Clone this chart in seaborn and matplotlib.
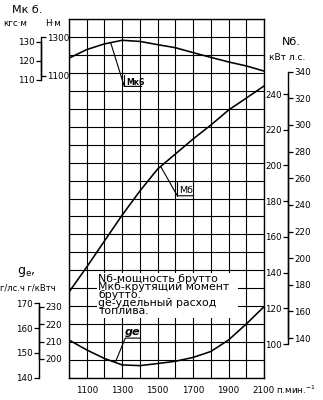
import numpy as np
import matplotlib
matplotlib.use('Agg')
import matplotlib.pyplot as plt
import seaborn as sns
from matplotlib.transforms import Affine2D, ScaledTranslation
from matplotlib.lines import Line2D
from matplotlib.patches import Rectangle

# ---------------- data ----------------
rpm = [1000, 1100, 1200, 1300, 1400, 1500, 1600, 1700, 1800, 1900, 2000, 2100]
torque_kgfm = [121.5, 126.0, 129.0, 130.9, 130.3, 128.6, 127.0, 124.4, 121.9, 119.5, 117.4, 114.7]
power_kw = [129.1, 143.1, 157.7, 172.2, 185.7, 198.0, 206.4, 214.8, 222.6, 231.0, 237.7, 244.5]
ge_gkwh = [210.9, 205.2, 200.3, 196.6, 196.2, 197.4, 198.7, 200.9, 204.3, 210.9, 220.1, 230.0]

x_ticklabels = ['', '1100', '', '1300', '', '1500', '', '1700', '', '1900', '', '2100']
torque_kgf_ticks = [110, 120, 130]
torque_nm_ticks = [1100, 1300]
power_kw_ticks = [100, 120, 140, 160, 180, 200, 220, 240]
power_hp_ticks = [140, 160, 180, 200, 220, 240, 260, 280, 300, 320, 340]
ge_hph_ticks = [140, 150, 160, 170]
ge_kwh_ticks = [200, 210, 220, 230]

legend_lines = ['Nб-мощность брутто', 'Мкб-крутящий момент', 'брутто.',
                'ge-удельный расход', 'топлива.']

# ---------------- style ----------------
sns.set_theme(style='white')
plt.rcParams['font.family'] = ['DejaVu Sans']
plt.rcParams['text.color'] = 'black'

W, H = 323, 400
fig = plt.figure(figsize=(W / 100, H / 100), dpi=100)
L, R, T, B = 69, 264, 19, 378
ax = fig.add_axes([L / W, 1 - B / H, (R - L) / W, (B - T) / H])
ax.set_xlim(1000, 2100)
ax.set_ylim(0, 20)
ax.set_xticks(rpm)
ax.set_xticklabels(x_ticklabels, fontsize=6.3)
ax.set_yticks(range(21))
ax.set_yticklabels([])
ax.grid(True, color='black', lw=0.8)
ax.tick_params(length=0, pad=6, colors='black')
for s in ax.spines.values():
    s.set_color('black')
    s.set_linewidth(1.0)


def scale_axis(ylim, side, pos, bounds, ticks):
    tw = ax.twinx()
    for s in tw.spines.values():
        s.set_visible(False)
    sp = tw.spines[side]
    sp.set_visible(True)
    sp.set_position(('axes', pos))
    sp.set_bounds(*bounds)
    sp.set_linewidth(1.0)
    sp.set_color('black')
    tw.yaxis.set_ticks_position(side)
    tw.yaxis.set_label_position(side)
    tw.set_yticks(ticks)
    tw.tick_params(axis='y', direction='out', length=3.5, width=0.9, pad=1,
                   labelsize=6.3, colors='black')
    tw.grid(False)
    tw.set_ylim(*ylim)
    return tw


# torque scales (left, top)
tw_t = scale_axis((-46.84, 142.1), 'left', -0.1436, (110, 130), torque_kgf_ticks)
tw_nm = scale_axis((-459.3, 1393.6), 'right', -0.1436, (1100, 1300), torque_nm_ticks)
# power scales (right)
tw_p = scale_axis((80.96, 282.0), 'left', 1.1231, (100, 240), power_kw_ticks)
tw_hp = scale_axis((110.0, 379.6), 'right', 1.1231, (140, 340), power_hp_ticks)
# specific consumption scales (left, bottom)
tw_ghp = scale_axis((139.9, 284.6), 'left', -0.1538, (140, 170), ge_hph_ticks)
tw_g = scale_axis((189.1, 395.05), 'right', -0.1538, (200, 230), ge_kwh_ticks)

# curves
sns.lineplot(x=rpm, y=torque_kgfm, ax=tw_t, color='black', linewidth=1.15)
sns.lineplot(x=rpm, y=power_kw, ax=tw_p, color='black', linewidth=1.15)
sns.lineplot(x=rpm, y=ge_gkwh, ax=tw_g, color='black', linewidth=1.15)
for a, lim in [(tw_t, (-46.84, 142.1)), (tw_p, (80.96, 282.0)), (tw_g, (189.1, 395.05))]:
    a.set_ylim(*lim)
    a.set_ylabel('')
    a.set_xlabel('')
ax.set_xlim(1000, 2100)

# legend box
ax.add_patch(Rectangle(((97 - L) / (R - L), (B - 318) / (B - T)),
                       (238 - 97) / (R - L), (318 - 273) / (B - T),
                       transform=ax.transAxes, facecolor='white', edgecolor='none', zorder=2))
ax.text((98.5 - L) / (R - L), (B - 274.0) / (B - T), '\n'.join(legend_lines),
        transform=ax.transAxes, va='top', ha='left', fontsize=7.8, linespacing=0.74, zorder=3)


# leaders
def leader(axis, x0, y0, segs):
    tr = Affine2D().scale(1 / 72) + fig.dpi_scale_trans + ScaledTranslation(x0, y0, axis.transData)
    for xs, ys in segs:
        axis.add_artist(Line2D(xs, ys, transform=tr, color='black', lw=0.8, clip_on=False))
    return tr


r_m = 1235
tr = leader(tw_t, r_m, np.interp(r_m, rpm, torque_kgfm),
            [([0, 9.8, 22.5], [0, -31.5, -31.5]), ([9.8, 9.8], [-31.5, -23.6])])
tw_t.text(11.2, -30.2, 'Мк6', transform=tr, fontsize=5.6, fontweight='bold',
          ha='left', va='baseline')

r_n = 1517
tr = leader(tw_p, r_n, np.interp(r_n, rpm, power_kw),
            [([0, 12, 23.5], [0, -21.1, -21.1]), ([12, 12], [-21.1, -11.5])])
tw_p.text(13.2, -19.0, 'Мб', transform=tr, fontsize=6.8, ha='left', va='baseline')

r_g = 1261
tr = leader(tw_g, r_g, np.interp(r_g, rpm, ge_gkwh),
            [([0, 7.2, 18], [0, 17.5, 17.5])])
tw_g.text(12.6, 18.3, 'ge', transform=tr, fontsize=8, fontweight='bold',
          fontstyle='italic', ha='center', va='bottom')


# figure texts
def ftext(px, py, s, **kw):
    fig.text(px / W, 1 - py / H, s, **kw)


ftext(12, 10, 'Мк б.', fontsize=8, va='center', ha='left')
ftext(3, 23, 'кгс·м', fontsize=6.3, va='center', ha='left')
ftext(45, 23, 'Н·м', fontsize=6.3, va='center', ha='left')
ftext(282, 42, 'Nб.', fontsize=8, va='center', ha='left')
ftext(269, 57, 'кВт л.с.', fontsize=6.5, va='center', ha='left')
ftext(17, 272, r'$\mathregular{g_e}$,', fontsize=9, va='center', ha='left')
ftext(0, 288, 'г/лс.ч г/кВтч', fontsize=6.0, va='center', ha='left')
ftext(276, 390, r'п.мин.$^{\mathregular{-1}}$', fontsize=6.3, va='center', ha='left')

fig.savefig('out.png', dpi=100)
